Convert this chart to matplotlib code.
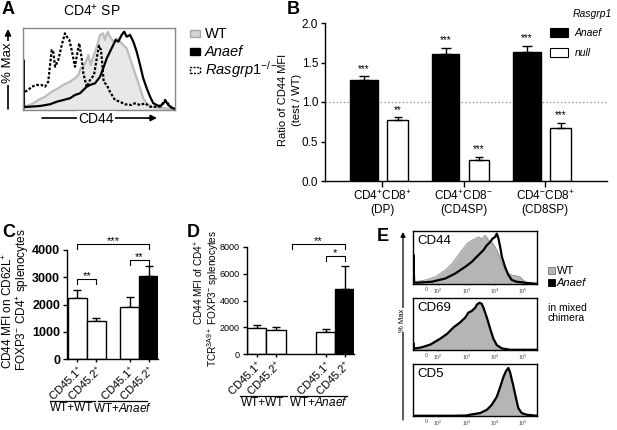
import numpy as np
import matplotlib.pyplot as plt
from matplotlib.patches import Rectangle, FancyArrowPatch
from matplotlib.lines import Line2D
from matplotlib.ticker import FormatStrFormatter

plt.rcParams['font.family'] = 'Liberation Sans'
plt.rcParams['mathtext.fontset'] = 'custom'
plt.rcParams['mathtext.rm'] = 'Liberation Sans'
plt.rcParams['mathtext.it'] = 'Liberation Sans:italic'
plt.rcParams['mathtext.bf'] = 'Liberation Sans:bold'
plt.rcParams['mathtext.default'] = 'regular'

# ---- Panel A: CD44 histograms on CD4 SP (channel 0-100, % max) ----
wt_x = [0.5, 1.3, 6.8, 10.1, 14.5, 18.9, 23.2, 26.5, 30.9, 34.2, 36.4, 38.0, 39.7, 41.4, 43.0, 44.5, 46.3,
        48.5, 50.7, 52.8, 53.9, 55.7, 57.2, 59.4, 61.6, 64.9, 68.2, 70.4, 72.6, 74.8, 77.0, 79.1, 81.4,
        84.7, 89.0, 93.4, 100]
wt_y = [1.0, 3.7, 8.2, 12.2, 16.2, 22.3, 26.5, 30.5, 34.5, 38.7, 42.7, 50.9, 52.8, 58.9, 67.1, 54.9, 65.0,
        77.2, 91.5, 93.5, 85.4, 95.5, 89.4, 83.3, 87.4, 81.3, 75.2, 63.0, 50.9, 38.7, 26.5, 14.3, 8.2,
        4.0, 2.8, 2.1, 1.2]
anaef_x = [0.1, 0.3, 0.7, 4.6, 11.2, 17.8, 22.2, 26.5, 30.9, 34.2, 37.5, 39.7, 41.9, 44.1, 47.4, 50.7, 52.8,
           55.1, 57.2, 59.4, 61.0, 62.7, 64.9, 66.6, 68.2, 70.4, 72.6, 74.8, 77.0, 79.1, 81.4, 83.6, 85.7,
           88.0, 90.1, 92.3, 93.9, 95.6, 97.8, 100]
anaef_y = [0, 61.0, 3.7, 4.0, 4.9, 7.0, 10.1, 12.2, 14.3, 18.3, 20.4, 24.4, 28.4, 30.5, 32.6, 40.6, 50.9,
           63.0, 71.1, 79.3, 85.4, 83.3, 91.5, 95.5, 89.4, 91.5, 83.3, 71.1, 54.9, 38.7, 26.5, 16.2, 8.2,
           6.1, 4.0, 8.2, 11.0, 6.1, 2.8, 1.2]
null_x = [1.3, 3.5, 5.7, 9.0, 12.3, 14.5, 16.6, 17.8, 18.9, 19.9, 21.1, 23.2, 25.5, 27.6, 28.8, 30.5, 32.0,
          33.1, 34.2, 35.7, 37.0, 38.6, 39.7, 41.9, 44.1, 46.7, 48.9, 50.0, 51.3, 52.2, 53.1, 55.1, 57.2,
          60.5, 63.8, 67.1, 71.5, 73.7, 77.0, 80.3, 83.6, 88.0, 91.3, 93.4, 95.2, 97.8, 100]
null_y = [22.3, 24.4, 28.4, 30.5, 30.5, 28.4, 34.5, 54.9, 73.2, 71.1, 52.8, 61.0, 79.3, 93.5, 89.4, 85.4, 73.2,
          63.0, 52.8, 69.1, 81.3, 63.0, 44.8, 28.0, 36.6, 42.7, 67.1, 78.4, 73.2, 54.9, 34.5, 30.5, 22.3,
          12.2, 10.1, 7.0, 6.1, 8.2, 6.1, 8.2, 4.0, 4.0, 6.1, 12.2, 8.2, 2.8, 1.2]

# ---- Panel B: ratio of CD44 MFI (test / WT) ----
b_groups = ['CD4$^{+}$CD8$^{+}$\n(DP)', 'CD4$^{+}$CD8$^{-}$\n(CD4SP)', 'CD4$^{-}$CD8$^{+}$\n(CD8SP)']
b_anaef = [1.28, 1.61, 1.63]
b_anaef_err = [0.045, 0.07, 0.08]
b_anaef_sig = ['***', '***', '***']
b_null = [0.77, 0.27, 0.67]
b_null_err = [0.035, 0.035, 0.07]
b_null_sig = ['**', '***', '***']

# ---- Panels C and D: CD44 MFI in mixed chimeras ----
cd_labels = ['CD45.1$^{+}$', 'CD45.2$^{+}$', 'CD45.1$^{+}$', 'CD45.2$^{+}$']
cd_colors = ['white', 'white', 'white', 'black']
c_mfi = [2230, 1390, 1920, 3060]
c_err = [300, 100, 345, 355]
d_mfi = [1930, 1800, 1680, 4830]
d_err = [250, 250, 180, 1750]

# ---- Panel E: histograms in mixed chimera (x = log10 decade position) ----
e_ticks = [1.58, 2, 3, 4, 5]
e_ticklabels = ['0', '10$^{2}$', '10$^{3}$', '10$^{4}$', '10$^{5}$']
cd44_wt_x = [1.12, 1.20, 1.55, 1.91, 2.26, 2.49, 2.67, 2.84, 3.02, 3.19, 3.31, 3.42, 3.54, 3.66, 3.78, 3.89,
             4.01, 4.13, 4.25, 4.36, 4.48, 4.60, 4.77, 4.89, 5.00, 5.12, 5.30, 5.47]
cd44_wt_y = [2.0, 4.5, 7.9, 14.4, 27.6, 40.6, 53.8, 67.0, 80.0, 86.7, 89.8, 93.2, 89.8, 96.5, 86.7, 83.3,
             73.5, 60.3, 40.6, 27.6, 20.9, 17.7, 15.8, 14.4, 7.9, 2.6, 1.2, 0.5]
cd44_an_x = [1.12, 1.13, 1.16, 1.26, 1.79, 2.26, 2.61, 2.96, 3.19, 3.42, 3.60, 3.72, 3.84, 3.92, 4.01, 4.07,
             4.13, 4.19, 4.25, 4.36, 4.48, 4.60, 4.77, 5.06, 5.30, 5.47]
cd44_an_y = [0, 58, 3, 2.6, 4.5, 11.0, 20.9, 34.1, 43.9, 57.1, 67.0, 76.8, 83.3, 89.8, 93.2, 99.7,
             89.8, 73.5, 53.8, 34.1, 17.7, 7.9, 4.5, 2.6, 1.2, 0.5]
cd69_wt_x = [1.12, 1.4, 1.73, 2.08, 2.32, 2.55, 2.78, 2.96, 3.07, 3.19, 3.31, 3.37, 3.46, 3.54, 3.60, 3.72,
             3.84, 3.95, 4.07, 4.25, 4.54, 5.47]
cd69_wt_y = [2, 5, 12, 24, 34, 47, 57, 67, 76, 80, 86, 92, 97, 94, 86, 66, 42, 22, 9, 3, 0.5, 0.5]
cd69_an_x = [1.12, 1.13, 1.16, 1.4, 1.73, 2.08, 2.32, 2.55, 2.78, 2.96, 3.07, 3.19, 3.31, 3.37, 3.46, 3.54,
             3.60, 3.72, 3.84, 3.95, 4.07, 4.25, 4.54, 5.47]
cd69_an_y = [0, 14, 3, 5, 11, 22.9, 32.7, 45.9, 55.8, 65.6, 75.5, 78.8, 85.3, 91.8, 95.2, 93.2,
             85.3, 65.6, 42.6, 22.9, 9.9, 3.2, 0.5, 0.5]
cd5_x = [1.12, 2.5, 3.0, 3.13, 3.48, 3.72, 3.89, 4.07, 4.19, 4.30, 4.40, 4.48, 4.54, 4.65, 4.75, 4.83,
         4.95, 5.12, 5.47]
cd5_wt_y = [0.5, 0.5, 1.2, 3, 6.5, 13, 23, 40, 60, 80, 92, 96, 87, 60, 34, 15, 5.5, 2.4, 0.5]
cd5_an_y = [0.5, 0.5, 1.0, 2.6, 5.9, 12.5, 22.3, 38.7, 58.4, 78.1, 91.3, 97.0, 88.0, 61.7, 35.5, 15.8,
            5.9, 2.6, 0.5]

W, H = 617, 430
fig = plt.figure(figsize=(W / 100, H / 100), dpi=100)


# helpers working in pixel coordinates of the figure (y from the top)
def rect(x0, y0, x1, y1):
    return [x0 / W, 1 - y1 / H, (x1 - x0) / W, (y1 - y0) / H]


def ftext(x, y, s, **kw):
    fig.text(x / W, 1 - y / H, s, **kw)


def fline(xs, ys, **kw):
    fig.add_artist(Line2D([x / W for x in xs], [1 - y / H for y in ys], **kw))


def fbox(x0, y0, x1, y1, **kw):
    fig.add_artist(Rectangle((x0 / W, 1 - y1 / H), (x1 - x0) / W, (y1 - y0) / H, **kw))


def farrow(x0, y0, x1, y1, lw=1.2, ms=9):
    fig.add_artist(FancyArrowPatch((x0 / W, 1 - y0 / H), (x1 / W, 1 - y1 / H), arrowstyle='-|>',
                                   mutation_scale=ms, lw=lw, color='k', shrinkA=0, shrinkB=0,
                                   transform=fig.transFigure))


def bracket(ax, x0, x1, y, h, label, fs=8):
    ax.plot([x0, x0, x1, x1], [y - h, y, y, y - h], color='k', lw=0.8, clip_on=False)
    ax.text((x0 + x1) / 2, y, label, ha='center', va='baseline', fontsize=fs)


def panel_letter(x, y, s):
    ftext(x, y, s, fontsize=13, fontweight='bold', ha='left', va='center')


# ------------------------------------------------ A
axA = fig.add_axes(rect(23, 28, 175, 110))
axA.fill_between(wt_x, wt_y, color='#e8e8e8', lw=0)
axA.plot(wt_x, wt_y, color='#bcbcbc', lw=1.6)
axA.plot(null_x, null_y, color='k', lw=1.6, ls=(0, (1.2, 0.8)))
axA.plot(anaef_x, anaef_y, color='k', lw=1.6)
axA.set_xlim(0, 100)
axA.set_ylim(0, 100)
axA.set_xticks([])
axA.set_yticks([])
for s in axA.spines.values():
    s.set_color('#888888')
    s.set_linewidth(1)

panel_letter(2, 10, 'A')
ftext(92, 11, 'CD4$^{+}$ SP', fontsize=10, ha='center', va='center')
farrow(8, 109, 8, 29)
ftext(8, 63, '% Max', fontsize=9.5, rotation=90, ha='center', va='center',
      bbox=dict(fc='white', ec='none', pad=1))
farrow(42, 118, 157, 118)
ftext(96, 119, 'CD44', fontsize=10, ha='center', va='center', bbox=dict(fc='white', ec='none', pad=1))

fbox(190, 30, 200, 37, fc='#d4d4d4', ec='#a8a8a8', lw=1)
fbox(190, 48, 200, 55, fc='k', ec='k', lw=1)
fbox(190, 67, 200, 73, fc='white', ec='k', lw=1, ls=(0, (1.5, 1)))
ftext(205, 34, 'WT', fontsize=10.5, va='center')
ftext(205, 52, 'Anaef', fontsize=10.5, style='italic', va='center')
ftext(205, 70, r'$\mathit{Rasgrp1}^{\mathit{-/-}}$', fontsize=10.5, va='center')

# ------------------------------------------------ B
axB = fig.add_axes(rect(325, 23, 607, 181))
xg = np.arange(len(b_groups))
xa = xg - 0.22
xn = xg + 0.19
axB.axhline(1.0, color='#999999', ls=':', lw=1, zorder=0)
axB.bar(xa, b_anaef, 0.34, color='k', edgecolor='k', lw=1)
axB.errorbar(xa, b_anaef, yerr=[np.zeros(3), b_anaef_err], fmt='none', ecolor='k', elinewidth=1,
             capsize=3.5, capthick=1)
axB.bar(xn, b_null, 0.25, color='white', edgecolor='k', lw=1)
axB.errorbar(xn, b_null, yerr=[np.zeros(3), b_null_err], fmt='none', ecolor='k', elinewidth=1,
             capsize=3, capthick=1)
for x, v, e, s in zip(xa, b_anaef, b_anaef_err, b_anaef_sig):
    axB.text(x, v + e + 0.06, s, ha='center', va='baseline', fontsize=7)
for x, v, e, s in zip(xn, b_null, b_null_err, b_null_sig):
    axB.text(x, v + e + 0.06, s, ha='center', va='baseline', fontsize=7)
axB.set_xlim(-0.70, 2.76)
axB.set_ylim(0, 2.0)
axB.set_yticks([0, 0.5, 1.0, 1.5, 2.0])
axB.yaxis.set_major_formatter(FormatStrFormatter('%.1f'))
axB.set_xticks(xg)
axB.set_xticklabels(b_groups, fontsize=8.5, linespacing=1.15)
axB.tick_params(axis='y', labelsize=8.5, length=3, width=1, pad=2)
axB.tick_params(axis='x', length=4, width=1, pad=2)
for s in ['top', 'right']:
    axB.spines[s].set_visible(False)
for s in ['left', 'bottom']:
    axB.spines[s].set_linewidth(1)

panel_letter(287, 9, 'B')
ftext(283.5, 100, 'Ratio of CD44 MFI', fontsize=8, rotation=90, ha='center', va='center')
ftext(297, 100, '(test / WT)', fontsize=8, rotation=90, ha='center', va='center')
ftext(573, 14, 'Rasgrp1', fontsize=7.5, style='italic', va='center')
fbox(550, 28, 568, 37, fc='k', ec='k', lw=0.8)
fbox(550, 48, 568, 57, fc='white', ec='k', lw=0.8)
ftext(575, 33, 'Anaef', fontsize=7.5, style='italic', va='center')
ftext(575, 53, 'null', fontsize=7.5, style='italic', va='center')


# ------------------------------------------------ C and D
def mfi_panel(ax, pos, vals, errs, ymax, step, tick_fs, bold):
    ax.bar(pos, vals, 1.0, color=cd_colors, edgecolor='k', lw=1, zorder=2)
    ax.errorbar(pos, vals, yerr=[np.zeros(len(vals)), errs], fmt='none', ecolor='k', elinewidth=1,
                capsize=3, capthick=1, zorder=1)
    ax.set_ylim(0, ymax)
    ax.set_yticks(np.arange(0, ymax + 1, step))
    ax.set_xticks(pos)
    ax.set_xticklabels(cd_labels, rotation=45, ha='right', va='top', rotation_mode='anchor', fontsize=8)
    ax.tick_params(axis='y', labelsize=tick_fs, length=3, width=1, pad=2)
    ax.tick_params(axis='x', length=2, width=1, pad=1)
    if bold:
        for lbl in ax.get_yticklabels():
            lbl.set_fontweight('bold')
    for s in ['top', 'right']:
        ax.spines[s].set_visible(False)
    for s in ['left', 'bottom']:
        ax.spines[s].set_linewidth(1)


axC = fig.add_axes(rect(67, 250, 158, 359))
pos_c = np.array([0, 1, 2.74, 3.74])
mfi_panel(axC, pos_c, c_mfi, c_err, 4000, 1000, 9, True)
axC.set_xlim(-0.55, 4.24)
bracket(axC, pos_c[0], pos_c[1], 2940, 180, '**')
bracket(axC, pos_c[0], pos_c[3], 4220, 180, '***')
bracket(axC, pos_c[2], pos_c[3], 3630, 180, '**')

panel_letter(2, 232, 'C')
ftext(8, 311, 'CD44 MFI on CD62L$^{+}$', fontsize=8.5, rotation=90, ha='center', va='center')
ftext(22.5, 300, 'FOXP3$^{-}$ CD4$^{+}$ splenocytes', fontsize=8.5, rotation=90, ha='center', va='center')
fline([50, 95], [401, 401], color='k', lw=0.9)
fline([98, 147], [401, 401], color='k', lw=0.9)
ftext(72, 408, 'WT+WT', fontsize=8.5, ha='center', va='center')
ftext(122, 408, r'WT+$\mathit{Anaef}$', fontsize=8.5, ha='center', va='center')

axD = fig.add_axes(rect(247, 247, 354, 354))
pos_d = np.array([0, 1, 3.575, 4.56])
mfi_panel(axD, pos_d, d_mfi, d_err, 8000, 2000, 6.5, False)
axD.set_xlim(-0.50, 5.04)
bracket(axD, pos_d[1] + 0.83, pos_d[3], 8250, 370, '**')
bracket(axD, pos_d[2], pos_d[3], 7300, 370, '*')

panel_letter(187, 232, 'D')
ftext(199, 282, 'CD44 MFI of CD4$^{+}$', fontsize=7.2, rotation=90, ha='center', va='center')
ftext(213, 298, 'TCR$^{3A9+}$ FOXP3$^{-}$ splenocytes', fontsize=7.2, rotation=90, ha='center', va='center')
fline([240, 287], [396, 396], color='k', lw=0.9)
fline([290, 347], [396, 396], color='k', lw=0.9)
ftext(263, 403, 'WT+WT', fontsize=8.5, ha='center', va='center')
ftext(318, 403, r'WT+$\mathit{Anaef}$', fontsize=8.5, ha='center', va='center')

# ------------------------------------------------ E
e_panels = [
    ('CD44', cd44_wt_x, cd44_wt_y, cd44_an_x, cd44_an_y, (231, 284)),
    ('CD69', cd69_wt_x, cd69_wt_y, cd69_an_x, cd69_an_y, (298, 350)),
    ('CD5', cd5_x, cd5_wt_y, cd5_x, cd5_an_y, (364, 416)),
]
for name, wx, wy, ax_, ay, (top, bot) in e_panels:
    ax = fig.add_axes(rect(412.5, top, 536.5, bot))
    ax.fill_between(wx, wy, color='#b5b5b5', lw=0)
    ax.plot(wx, wy, color='#8c8c8c', lw=0.6)
    ax.plot(ax_, ay, color='k', lw=1.6)
    ax.set_xlim(1.1, 5.47)
    ax.set_ylim(0, 105)
    ax.set_yticks([])
    ax.set_xticks(e_ticks)
    ax.set_xticklabels(e_ticklabels, fontsize=3.8, color='#444444')
    ax.tick_params(axis='x', length=1, width=0.5, pad=1, colors='#444444')
    for s in ax.spines.values():
        s.set_linewidth(1)
    ax.text(0.04, 0.93, name, transform=ax.transAxes, fontsize=9.5, ha='left', va='top')

panel_letter(377, 237, 'E')
farrow(403, 420, 403, 232, lw=0.9, ms=7)
ftext(403, 320, '% Max', fontsize=5.5, rotation=90, ha='center', va='center',
      bbox=dict(fc='white', ec='none', pad=0.5))
fbox(548, 267, 555, 274, fc='#b5b5b5', ec='#777777', lw=0.6)
fbox(548, 279, 555, 286, fc='k', ec='k', lw=0.6)
ftext(557, 270.5, 'WT', fontsize=8, va='center')
ftext(557, 282.5, 'Anaef', fontsize=8, style='italic', va='center')
ftext(548, 313, 'in mixed\nchimera', fontsize=7.5, va='center', linespacing=1.0)

fig.savefig('out.png', dpi=100)
